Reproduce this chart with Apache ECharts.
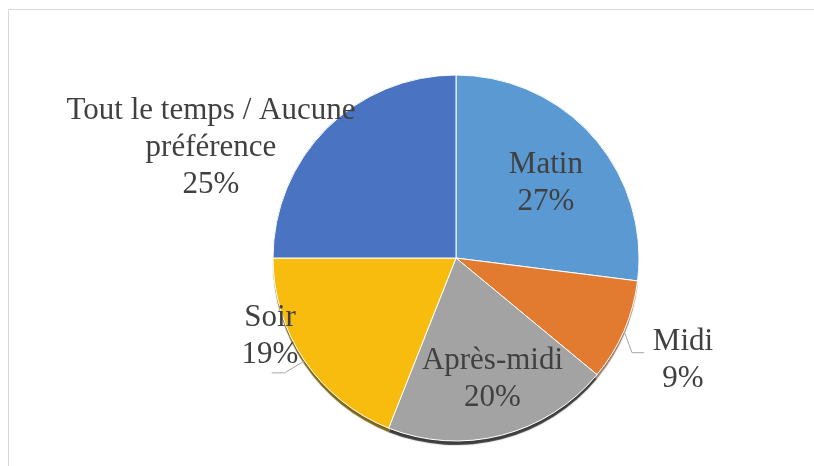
<!DOCTYPE html>
<html>
<head>
<meta charset="utf-8">
<script src="https://cdn.jsdelivr.net/npm/echarts@6/dist/echarts.min.js"></script>
<style>
  html, body { margin: 0; padding: 0; background: #fff; }
  #pieChart { width: 814px; height: 466px; }
</style>
</head>
<body>
<div id="pieChart"></div>
<script>
// moments of the day, share of answers (%)
const categories = ['Matin', 'Midi', 'Après-midi', 'Soir', 'Tout le temps / Aucune\npréférence'];
const values = [27, 9, 20, 19, 25];
const colors = ['#5A99D2', '#E27A30', '#A3A3A3', '#F8BC0E', '#4A73C2'];
const shadowColors = ['rgba(0,0,0,0)', 'rgba(90,40,10,0.6)', 'rgba(40,40,40,0.9)', 'rgba(110,85,0,0.9)', 'rgba(0,0,0,0)'];

// where the outside labels sit (label centre), by slice index
const labelSpots = {
  1: [683, 360],
  3: [270, 336],
  4: [211, 148]
};
// leader line bends, relative to the anchor on the pie edge
const leaderBends = {
  1: [[8, 22], [20, 22]],
  3: [[-20, 12], [-33, 12]]
};

const chart = echarts.init(document.getElementById('pieChart'));

const pieCenter = [456, 258];
const pieRadius = [0, 183];

// bottom layer: only used for the drop shadow under the pie
const shadowData = categories.map((name, i) => ({
  name: name,
  value: values[i],
  itemStyle: { color: colors[i], shadowColor: shadowColors[i] }
}));

const pieData = categories.map((name, i) => {
  const item = {
    name: name,
    value: values[i],
    itemStyle: { color: colors[i] },
    labelLine: { show: i === 1 || i === 3 }
  };
  if (i === 0) {
    item.label = { position: 'inside', offset: [19, -12] };
  } else if (i === 2) {
    item.label = { position: 'inside', offset: [13, 30] };
  }
  return item;
});

const option = {
  animation: false,
  graphic: [{
    type: 'rect',
    silent: true,
    shape: { x: 8.5, y: 9.5, width: 900, height: 600 },
    style: { fill: 'none', stroke: '#d9d9d9', lineWidth: 1 }
  }],
  series: [{
    type: 'pie',
    silent: true,
    center: pieCenter,
    radius: pieRadius,
    startAngle: 90,
    clockwise: true,
    data: shadowData,
    z: 1,
    itemStyle: {
      shadowBlur: 1,
      shadowOffsetY: 4
    },
    label: { show: false },
    labelLine: { show: false }
  }, {
    type: 'pie',
    center: pieCenter,
    radius: pieRadius,
    startAngle: 90,
    clockwise: true,
    data: pieData,
    z: 2,
    itemStyle: {
      borderColor: '#ffffff',
      borderWidth: 1
    },
    label: {
      show: true,
      position: 'outside',
      formatter: p => p.name + '\n' + p.value + '%',
      fontFamily: 'Liberation Serif',
      fontSize: 31,
      lineHeight: 37,
      color: '#404040',
      align: 'center'
    },
    labelLine: {
      length: 8,
      length2: 12,
      lineStyle: { color: '#a6a6a6', width: 1 }
    },
    labelLayout: function (params) {
      const spot = labelSpots[params.dataIndex];
      if (!spot) return {};
      const out = {
        x: spot[0],
        y: spot[1],
        align: 'center',
        verticalAlign: 'middle'
      };
      const bends = leaderBends[params.dataIndex];
      if (bends && params.labelLinePoints) {
        const p0 = params.labelLinePoints[0];
        out.labelLinePoints = [
          [p0[0], p0[1]],
          [p0[0] + bends[0][0], p0[1] + bends[0][1]],
          [p0[0] + bends[1][0], p0[1] + bends[1][1]]
        ];
      }
      return out;
    }
  }]
};

chart.setOption(option);
</script>
</body>
</html>
